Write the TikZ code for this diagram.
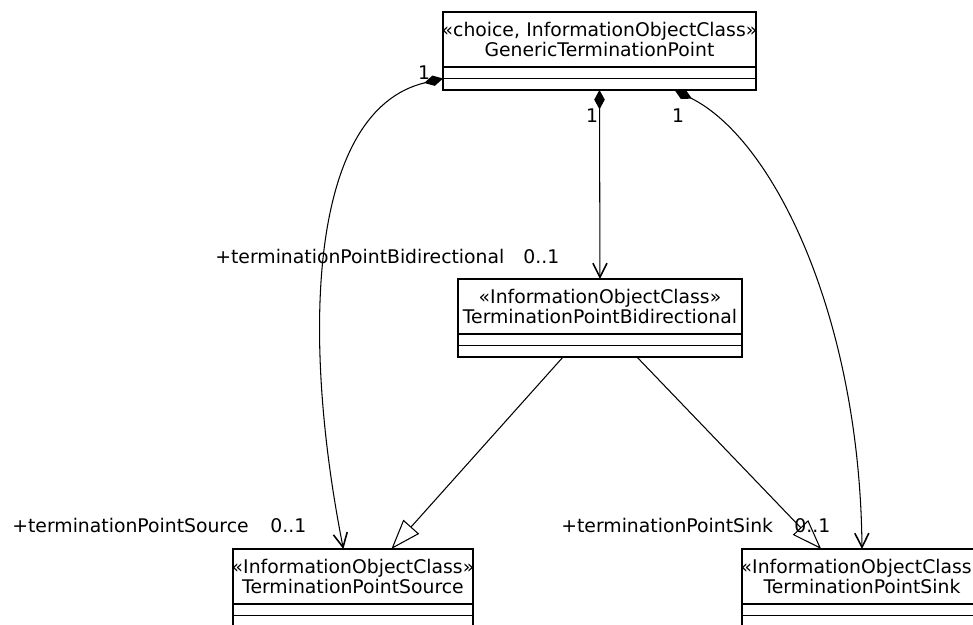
\documentclass[tikz,border=0pt]{standalone}
\usepackage{fontspec}
\setmainfont{DejaVu Sans}
\usetikzlibrary{arrows.meta,calc}

\newcommand{\umlclass}[5]{%
  \node[classhead, text width=#3, anchor=north west] (#1) at (#2) {\makebox[\linewidth]{«#4»}\\\makebox[\linewidth]{#5}};
  \node[compart, minimum width=#3, anchor=north west] (#1-attr) at (#1.south west) {};
  \node[compart, minimum width=#3, anchor=north west] (#1-ops) at (#1-attr.south west) {};
}

\begin{document}
\begin{tikzpicture}[x=0.02cm, y=-0.02cm, font=\fontsize{10.7pt}{11.4pt}\selectfont,
    classhead/.style={draw, line width=1.1pt, inner sep=0pt, outer sep=0pt, align=center, minimum height=1.1cm},
    compart/.style={draw, line width=1.1pt, inner sep=0pt, outer sep=0pt, minimum height=0.23cm},
    compo/.style={line width=0.6pt, {Diamond[length=11pt,width=6pt]}-{Straight Barb[length=8pt,width=8pt,line width=0.9pt]}},
    inherit/.style={line width=0.6pt, -{Triangle[open,length=17pt,width=12pt,fill=white]}},
    role/.style={anchor=base west, inner sep=0pt}]

    \useasboundingbox (0,0) rectangle (973,625);

    % classes
    \umlclass{gen}{443,12}{6.26cm}{choice, InformationObjectClass}{GenericTerminationPoint}
    \umlclass{bid}{458,279}{5.68cm}{InformationObjectClass}{TerminationPointBidirectional}
    \umlclass{src}{233,549}{4.8cm}{InformationObjectClass}{TerminationPointSource}
    \umlclass{snk}{742,549}{4.8cm}{InformationObjectClass}{TerminationPointSink}

    % composition
    \draw[compo] (gen-ops.north west) .. controls (310,110) and (300,330) .. ($(src.north west)!0.46!(src.north east)$);
    \draw[compo] (gen-ops.south) -- (bid.north);
    \draw[compo] ($(gen-ops.south west)!0.74!(gen-ops.south east)$) .. controls (775,140) and (860,320) .. (snk.north);

    % generalization
    \draw[inherit] ($(bid-ops.south west)!0.37!(bid-ops.south east)$) -- ($(src.north west)!0.66!(src.north east)$);
    \draw[inherit] ($(bid-ops.south west)!0.63!(bid-ops.south east)$) -- ($(snk.north west)!0.33!(snk.north east)$);

    % roles and multiplicities
    \node[role] (bidrole) at (215,263) {+terminationPointBidirectional};
    \node[role] (bidmult) at (523,263) {0..1};
    \node[role] (srcrole) at (12,532) {+terminationPointSource};
    \node[role] (srcmult) at (270,532) {0..1};
    \node[role] (snkrole) at (561,532) {+terminationPointSink};
    \node[role] (snkmult) at (794,532) {0..1};
    \node (genl) at (424,73) {1};
    \node (genm) at (592,116) {1};
    \node (genr) at (678,116) {1};
\end{tikzpicture}
\end{document}
